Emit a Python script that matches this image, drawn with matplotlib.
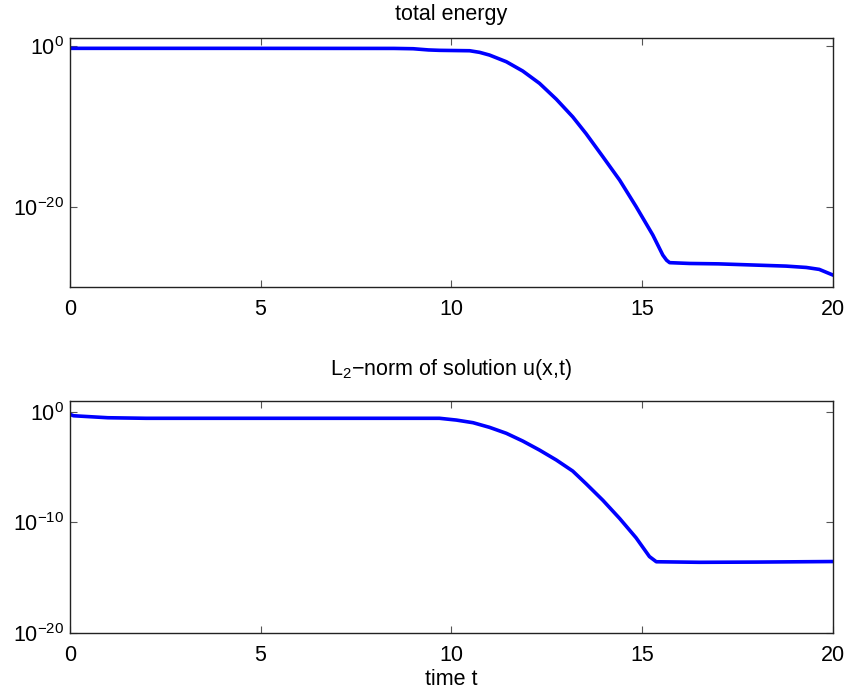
import numpy as np
import matplotlib
matplotlib.use("Agg")
import matplotlib.pyplot as plt

plt.rcParams['font.family'] = ['Liberation Sans', 'DejaVu Sans']
plt.rcParams['mathtext.fontset'] = 'custom'
plt.rcParams['mathtext.rm'] = 'Liberation Sans'
plt.rcParams['mathtext.it'] = 'Liberation Sans:italic'
plt.rcParams['mathtext.bf'] = 'Liberation Sans:bold'

# values (time, log10 of quantity)
t_energy = [0.0, 4.0, 8.5, 9.0, 9.4, 9.69, 10.48, 10.74, 11.0, 11.44, 11.87,
            12.31, 12.75, 13.18, 13.53, 13.97, 14.41, 14.84, 15.28, 15.54,
            15.64, 15.72, 16.24, 17.0, 18.77, 19.3, 19.64, 20.0]
log_energy = [-0.25, -0.25, -0.26, -0.3, -0.45, -0.5, -0.55, -0.75, -1.09,
              -1.92, -3.08, -4.62, -6.6, -8.8, -10.9, -13.78, -16.7, -20.0,
              -23.56, -26.05, -26.7, -27.0, -27.1, -27.15, -27.43, -27.6,
              -27.84, -28.55]

t_norm = [0.0, 0.1, 1.0, 2.0, 5.0, 8.0, 9.69, 10.13, 10.57, 11.0, 11.44,
          11.87, 12.31, 12.75, 13.18, 13.53, 13.97, 14.41, 14.84, 15.19,
          15.37, 16.5, 18.0, 20.0]
log_norm = [-0.2, -0.34, -0.52, -0.57, -0.57, -0.57, -0.57, -0.73, -0.97,
            -1.39, -1.93, -2.63, -3.45, -4.35, -5.35, -6.5, -8.0, -9.65,
            -11.4, -13.1, -13.57, -13.62, -13.6, -13.55]

energy = 10.0 ** np.array(log_energy)
l2norm = 10.0 ** np.array(log_norm)

fig = plt.figure(figsize=(8.45, 6.93), dpi=100)
ax1 = fig.add_axes([0.0825, 0.5863, 0.9033, 0.3584])
ax2 = fig.add_axes([0.0825, 0.0870, 0.9033, 0.3344])

fs = 15.5
for ax in (ax1, ax2):
    ax.set_yscale('log')
    ax.set_xlim(0, 20)
    ax.set_xticks([0, 5, 10, 15, 20])
    ax.tick_params(direction='in', top=True, right=True, length=5, width=0.8,
                   labelsize=fs, color='#555555')
    ax.tick_params(axis='x', pad=9)
    ax.tick_params(axis='y', pad=4)
    for s in ax.spines.values():
        s.set_linewidth(1.0)
        s.set_color('#222222')

ax1.plot(t_energy, energy, color='#0000ff', lw=2.6, solid_joinstyle='round')
ax1.set_ylim(1e-30, 1e1)
ax1.set_yticks([1e-20, 1e0])
ax1.set_yticklabels([r'$10^{-20}$', r'$10^{0}$'])
ax1.minorticks_off()
ax1.set_title('total energy', fontsize=fs, pad=13)

ax2.plot(t_norm, l2norm, color='#0000ff', lw=2.6, solid_joinstyle='round')
ax2.set_ylim(1e-20, 1e1)
ax2.set_yticks([1e-20, 1e-10, 1e0])
ax2.set_yticklabels([r'$10^{-20}$', r'$10^{-10}$', r'$10^{0}$'])
ax2.minorticks_off()
ax2.set_title('L$_2$\u2212norm of solution u(x,t)', fontsize=fs, pad=19)
ax2.set_xlabel('time t', fontsize=fs, labelpad=2)

fig.savefig('out.png', dpi=100)
